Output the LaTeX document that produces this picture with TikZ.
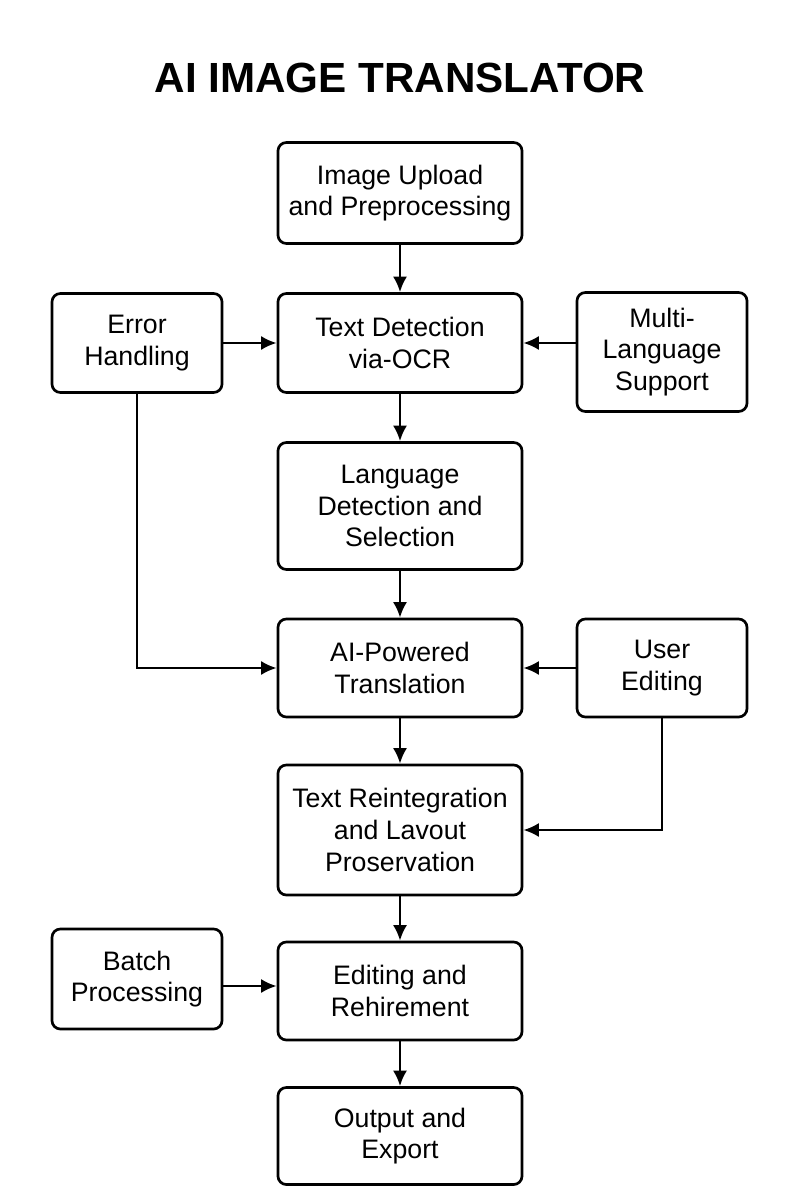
\documentclass[tikz,border=0pt]{standalone}
\usepackage{fontspec}
\setmainfont{Liberation Sans}
\usetikzlibrary{arrows.meta}
\begin{document}
\begin{tikzpicture}[x=0.025cm, y=-0.025cm,
  box/.style={draw, line width=1.9pt, rounded corners=6pt, align=center, inner sep=2pt, fill=white, font=\fontsize{19}{22.5}\selectfont},
  mainbox/.style={box, minimum width=6.1cm},
  sidebox/.style={box, minimum width=4.25cm},
  arr/.style={line width=1.8pt, -{Latex[length=11pt,width=10pt]}}]
\useasboundingbox (0,0) rectangle (800,1200);
\node[font=\bfseries\fontsize{30}{34}\selectfont] at (400,78) (title) {AI IMAGE TRANSLATOR};

\node[mainbox, minimum height=2.525cm] at (400,193) (upload) {Image Upload\\and Preprocessing};
\node[mainbox, minimum height=2.475cm] at (400,343) (detect) {Text Detection\\via-OCR};
\node[sidebox, minimum height=2.475cm] at (137,343) (error) {Error\\Handling};
\node[sidebox, minimum height=2.975cm] at (662,352) (multi) {Multi-\\Language\\Support};
\node[mainbox, minimum height=3.175cm] at (400,506) (lang) {Language\\Detection and\\Selection};
\node[mainbox, minimum height=2.45cm] at (400,668) (transl) {AI-Powered\\Translation};
\node[sidebox, minimum height=2.45cm] at (662,668) (user) {User\\Editing};
\node[mainbox, minimum height=3.25cm] at (400,830) (reint) {Text Reintegration\\and Lavout\\Proservation};
\node[sidebox, minimum height=2.5cm] at (137,979) (batch) {Batch\\Processing};
\node[mainbox, minimum height=2.45cm] at (400,991) (refine) {Editing and\\Rehirement};
\node[mainbox, minimum height=2.425cm] at (400,1136) (output) {Output and\\Export};
\coordinate (batchout) at (222,986);

\draw[arr] (upload) -- (detect);
\draw[arr] (error) -- (detect);
\draw[arr] (multi.west |- detect.east) -- (detect.east);
\draw[arr] (detect) -- (lang);
\draw[arr] (lang) -- (transl);
\draw[arr] (error) |- (transl);
\draw[arr] (user) -- (transl);
\draw[arr] (transl) -- (reint);
\draw[arr] (user) |- (reint);
\draw[arr] (reint) -- (refine);
\draw[arr] (batchout) -- (batchout -| refine.west);
\draw[arr] (refine) -- (output);
\end{tikzpicture}
\end{document}
